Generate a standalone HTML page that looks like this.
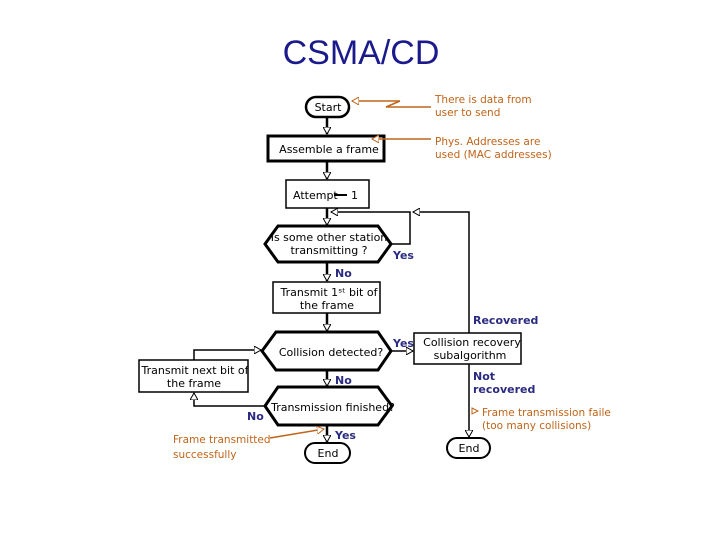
<!DOCTYPE html>
<html><head><meta charset="utf-8"><style>
html,body{margin:0;padding:0;background:#fff;}
svg{display:block;}
text{font-family:"DejaVu Sans","Liberation Sans",sans-serif;}
.t{font-size:11px;fill:#000;}
.o{font-size:10.5px;fill:#c0641a;}
.l{font-size:11px;fill:#2a2a80;font-weight:bold;}
</style></head><body>
<svg width="720" height="540" viewBox="0 0 720 540">
<defs>
<marker id="a" markerWidth="8" markerHeight="8" refX="7" refY="4" orient="auto" markerUnits="userSpaceOnUse">
<path d="M0,0 L7,4 L0,8 Z" fill="#fff" stroke="#000" stroke-width="1"/></marker>
<marker id="ao" markerWidth="8" markerHeight="8" refX="7" refY="4" orient="auto" markerUnits="userSpaceOnUse">
<path d="M0,0 L7,4 L0,8 Z" fill="#fff" stroke="#c0641a" stroke-width="1"/></marker>
</defs>
<text x="361" y="64" text-anchor="middle" style="font-family:'Liberation Sans',sans-serif;font-size:34px;fill:#1a1a8c">CSMA/CD</text>

<g stroke="#000" stroke-width="2.5" fill="none">
<line x1="327" y1="117" x2="327" y2="134" marker-end="url(#a)"/>
<line x1="327" y1="161" x2="327" y2="179" marker-end="url(#a)"/>
<line x1="327" y1="208" x2="327" y2="225" marker-end="url(#a)"/>
<line x1="327" y1="262" x2="327" y2="281" marker-end="url(#a)"/>
<line x1="327" y1="313" x2="327" y2="331" marker-end="url(#a)"/>
<line x1="327" y1="370" x2="327" y2="386" marker-end="url(#a)"/>
<line x1="327" y1="425" x2="327" y2="442" marker-end="url(#a)"/>
</g>
<g stroke="#000" stroke-width="1.5" fill="none">
<polyline points="391,244 410,244 410,212 331,212" marker-end="url(#a)"/>
<polyline points="469,333 469,212 413,212" marker-end="url(#a)"/>
<line x1="391" y1="351" x2="413" y2="351" marker-end="url(#a)"/>
<line x1="469" y1="364" x2="469" y2="437" marker-end="url(#a)"/>
<polyline points="265,406 194,406 194,393" marker-end="url(#a)"/>
<polyline points="194,360 194,350 261,350" marker-end="url(#a)"/>
</g>

<rect x="306" y="97" width="43" height="20" rx="10" fill="#fff" stroke="#000" stroke-width="2.5"/>
<text class="t" x="328" y="111" text-anchor="middle">Start</text>
<rect x="268" y="136" width="116" height="25" fill="#fff" stroke="#000" stroke-width="3"/>
<text class="t" x="329" y="153" text-anchor="middle">Assemble a frame</text>
<rect x="286" y="180" width="83" height="28" fill="#fff" stroke="#000" stroke-width="1.5"/>
<text class="t" x="293" y="199">Attempt</text><text class="t" x="351" y="199">1</text>
<line x1="334" y1="195" x2="347" y2="195" stroke="#000" stroke-width="2"/>
<polygon points="265,244 278,226 378,226 391,244 378,262 278,262" fill="#fff" stroke="#000" stroke-width="3"/>
<text class="t" x="329" y="241" text-anchor="middle">Is some other station</text>
<text class="t" x="329" y="254" text-anchor="middle">transmitting ?</text>
<rect x="273" y="282" width="107" height="31" fill="#fff" stroke="#000" stroke-width="1.5"/>
<text class="t" x="329" y="296" text-anchor="middle">Transmit 1ˢᵗ bit of</text>
<text class="t" x="327" y="309" text-anchor="middle">the frame</text>
<polygon points="262,351 276,332 378,332 391,351 378,370 276,370" fill="#fff" stroke="#000" stroke-width="3"/>
<text class="t" x="331" y="356" text-anchor="middle">Collision detected?</text>
<rect x="139" y="360" width="109" height="32" fill="#fff" stroke="#000" stroke-width="1.5"/>
<text class="t" x="195" y="374" text-anchor="middle">Transmit next bit of</text>
<text class="t" x="194" y="387" text-anchor="middle">the frame</text>
<polygon points="265,406 278,387 378,387 392,406 378,425 278,425" fill="#fff" stroke="#000" stroke-width="3"/>
<text class="t" x="333" y="411" text-anchor="middle">Transmission finished?</text>
<rect x="305" y="443" width="45" height="20" rx="10" fill="#fff" stroke="#000" stroke-width="2"/>
<text class="t" x="328" y="457" text-anchor="middle">End</text>
<rect x="414" y="333" width="107" height="31" fill="#fff" stroke="#000" stroke-width="1.5"/>
<text class="t" x="472" y="346" text-anchor="middle">Collision recovery</text>
<text class="t" x="470" y="359" text-anchor="middle">subalgorithm</text>
<rect x="447" y="438" width="43" height="20" rx="10" fill="#fff" stroke="#000" stroke-width="2"/>
<text class="t" x="469" y="452" text-anchor="middle">End</text>

<text class="l" x="393" y="259">Yes</text>
<text class="l" x="335" y="277">No</text>
<text class="l" x="473" y="324">Recovered</text>
<text class="l" x="393" y="347">Yes</text>
<text class="l" x="335" y="384">No</text>
<text class="l" x="473" y="380">Not</text>
<text class="l" x="473" y="393">recovered</text>
<text class="l" x="247" y="420">No</text>
<text class="l" x="335" y="439">Yes</text>

<g stroke="#c0641a" stroke-width="1.5" fill="none">
<line x1="400" y1="101" x2="352" y2="101" marker-end="url(#ao)"/>
<line x1="431" y1="107" x2="386" y2="107"/>
<line x1="386" y1="107" x2="400" y2="101"/>
<line x1="431" y1="139" x2="372" y2="139" marker-end="url(#ao)"/>
<line x1="270" y1="438" x2="324" y2="429" marker-end="url(#ao)"/>
</g>
<path d="M472,408 L478,411 L472,414 Z" fill="#fff" stroke="#c0641a"/>
<text class="o" x="435" y="103">There is data from</text>
<text class="o" x="435" y="116">user to send</text>
<text class="o" x="435" y="145">Phys. Addresses are</text>
<text class="o" x="435" y="158">used (MAC addresses)</text>
<text class="o" x="482" y="416">Frame transmission faile</text>
<text class="o" x="482" y="429">(too many collisions)</text>
<text class="o" x="173" y="443">Frame transmitted</text>
<text class="o" x="173" y="458">successfully</text>
</svg>
</body></html>
